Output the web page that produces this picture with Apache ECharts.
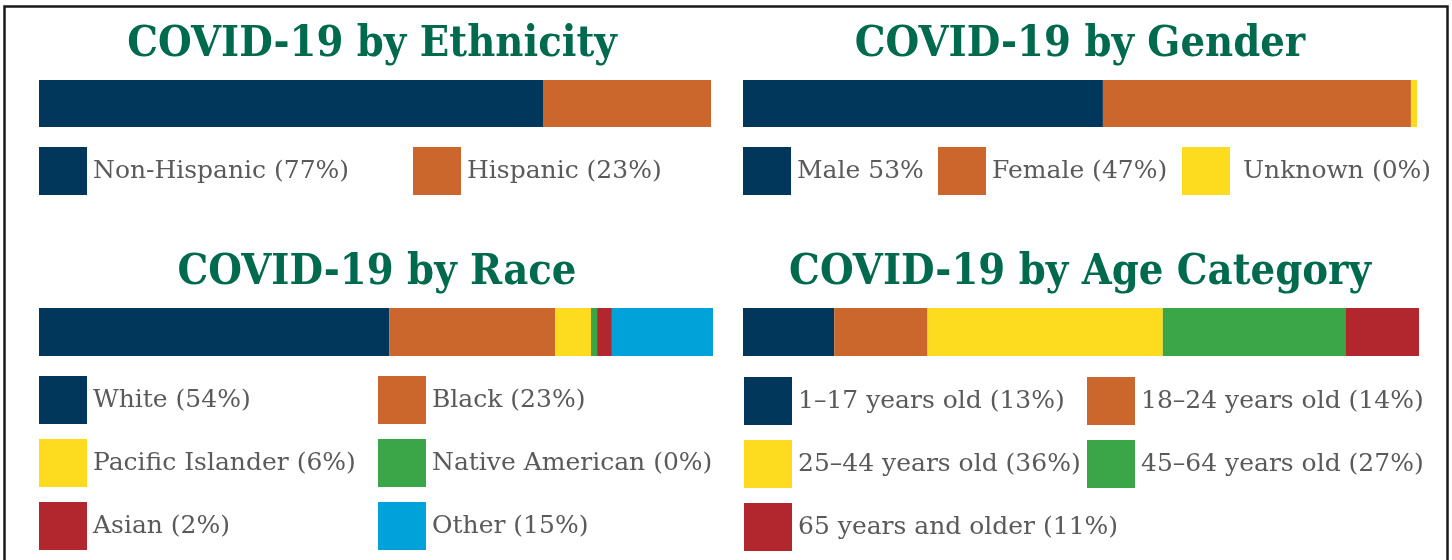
<!DOCTYPE html>
<html>
<head>
<meta charset="utf-8">
<script src="https://cdn.jsdelivr.net/npm/echarts@6/dist/echarts.min.js"></script>
<style>
html,body{margin:0;padding:0;background:#fff;}
#chart{width:1452px;height:560px;}
</style>
</head>
<body>
<div id="chart"></div>
<script>
// ---- Data ----
var titles = ['COVID-19 by Ethnicity', 'COVID-19 by Gender', 'COVID-19 by Race', 'COVID-19 by Age Category'];

var ethnicityLabels = ['Non-Hispanic (77%)', 'Hispanic (23%)'];
var ethnicityValues = [75, 25];

var genderLabels = ['Male 53%', 'Female (47%)', 'Unknown (0%)'];
var genderValues = [53.4, 45.7, 0.9];

var raceLabels = ['White (54%)', 'Black (23%)', 'Pacific Islander (6%)', 'Native American (0%)', 'Asian (2%)', 'Other (15%)'];
var raceValues = [52, 24.6, 5.3, 0.9, 2.2, 15];

var ageLabels = ['1\u201317 years old (13%)', '18\u201324 years old (14%)', '25\u201344 years old (36%)', '45\u201364 years old (27%)', '65 years and older (11%)'];
var ageValues = [13.5, 13.8, 34.8, 27.1, 10.8];

// ---- Styles ----
var NAVY = '#00375a', ORANGE = '#cb662d', YELLOW = '#fddb1e', GREEN = '#3aa648', RED = '#b2272d', BLUE = '#00a3d9';
var ethnicityColors = [NAVY, ORANGE];
var genderColors = [NAVY, ORANGE, YELLOW];
var raceColors = [NAVY, ORANGE, YELLOW, GREEN, RED, BLUE];
var ageColors = [NAVY, ORANGE, YELLOW, GREEN, RED];
var TITLE_COLOR = '#006a4e';
var TEXT_COLOR = '#5a5a5a';

var panels = [
  {labels: ethnicityLabels, values: ethnicityValues, colors: ethnicityColors,
   grid: {left: 39, top: 80, width: 672, height: 47}, title: {x: 372, y: 45},
   legends: [{left: 39, top: 147, idx: [0]}, {left: 413, top: 147, idx: [1]}]},
  {labels: genderLabels, values: genderValues, colors: genderColors,
   grid: {left: 743, top: 80, width: 674, height: 47}, title: {x: 1080, y: 45},
   legends: [{left: 743, top: 147, idx: [0]}, {left: 938, top: 147, idx: [1]}, {left: 1182, top: 147, idx: [2], pad: 8}]},
  {labels: raceLabels, values: raceValues, colors: raceColors,
   grid: {left: 39, top: 308, width: 674, height: 48}, title: {x: 377, y: 273},
   legends: [{left: 39, top: 376, idx: [0, 2, 4]}, {left: 378, top: 376, idx: [1, 3, 5]}]},
  {labels: ageLabels, values: ageValues, colors: ageColors,
   grid: {left: 743, top: 308, width: 676, height: 48}, title: {x: 1080, y: 273},
   legends: [{left: 744, top: 377, idx: [0, 2, 4]}, {left: 1087, top: 377, idx: [1, 3]}]}
];

var option = {
  backgroundColor: '#ffffff',
  animation: false,
  title: [], grid: [], xAxis: [], yAxis: [], series: [], legend: [],
  graphic: [{
    type: 'rect', silent: true,
    shape: {x: 4.5, y: 6.5, width: 1443, height: 600},
    style: {fill: null, stroke: '#1a1a1a', lineWidth: 2.5}
  }]
};

panels.forEach(function (p, pi) {
  option.title.push({
    text: titles[pi], left: p.title.x, top: p.title.y, padding: 0,
    textAlign: 'center', textVerticalAlign: 'middle',
    textStyle: {fontFamily: 'DejaVu Serif Condensed', fontWeight: 'bold', fontSize: 43, color: TITLE_COLOR}
  });
  option.grid.push({left: p.grid.left, top: p.grid.top, width: p.grid.width, height: p.grid.height, containLabel: false});
  option.xAxis.push({type: 'value', gridIndex: pi, min: 0, max: 100, show: false});
  option.yAxis.push({type: 'category', gridIndex: pi, data: [''], show: false});
  p.labels.forEach(function (name, i) {
    option.series.push({
      type: 'bar', name: name, stack: 'panel' + pi,
      xAxisIndex: pi, yAxisIndex: pi,
      barWidth: '100%', silent: true,
      itemStyle: {color: p.colors[i]},
      data: [p.values[i]]
    });
  });
  p.legends.forEach(function (lg) {
    option.legend.push({
      left: lg.left, top: lg.top, padding: 0, orient: 'vertical',
      itemWidth: 48, itemHeight: 48, itemGap: 15, icon: 'rect',
      selectedMode: false,
      data: lg.idx.map(function (i) { return p.labels[i]; }),
      textStyle: {fontFamily: 'DejaVu Serif', fontSize: 25, color: TEXT_COLOR, padding: [2, 0, 0, lg.pad || 1]}
    });
  });
});

var chart = echarts.init(document.getElementById('chart'), null, {renderer: 'canvas'});
chart.setOption(option);
</script>
</body>
</html>
